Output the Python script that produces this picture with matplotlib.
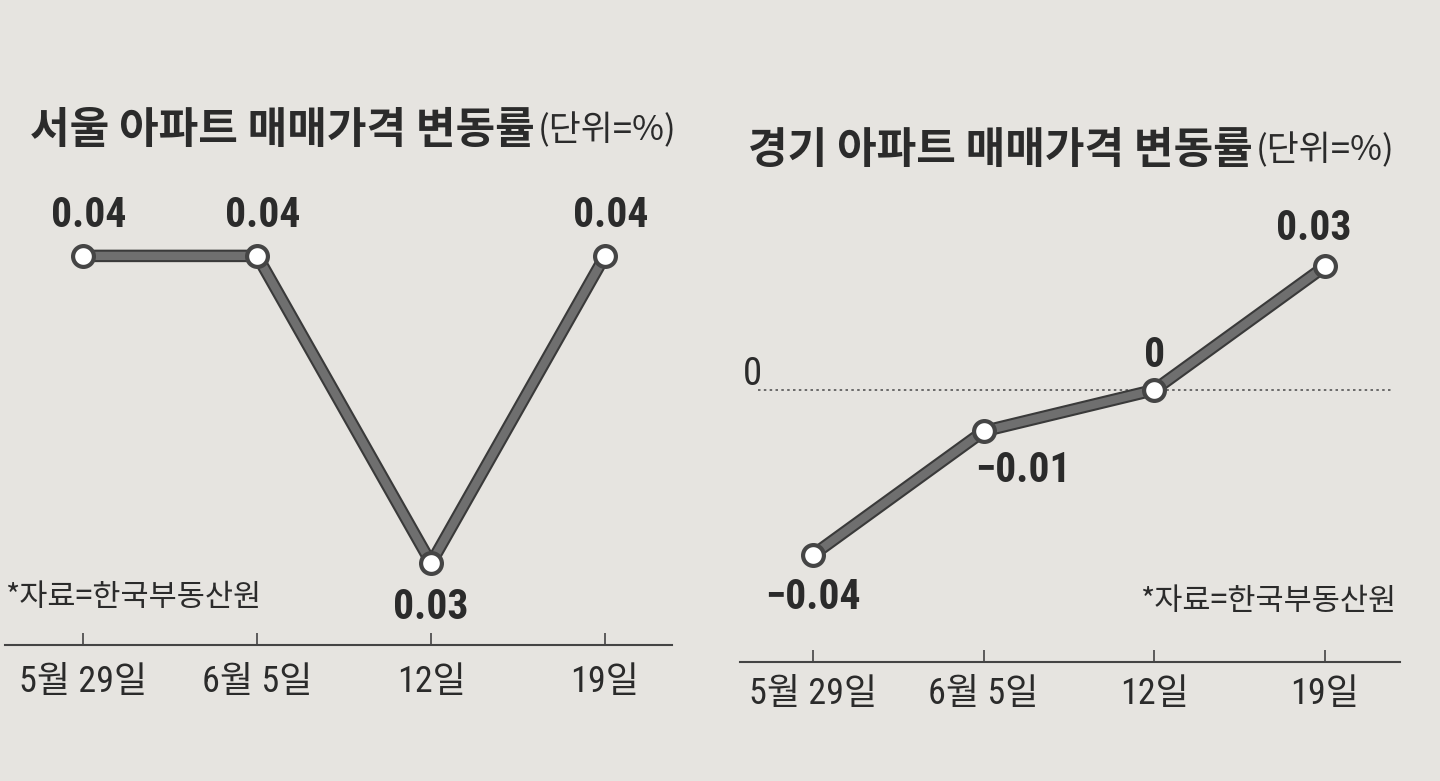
import matplotlib
matplotlib.use("Agg")
import matplotlib.pyplot as plt
import matplotlib.patheffects as pe
import logging
logging.getLogger("matplotlib.font_manager").setLevel(logging.ERROR)

# ---- data ----
dates = ["5월 29일", "6월 5일", "12일", "19일"]
seoul_values = [0.04, 0.04, 0.03, 0.04]
seoul_labels = ["0.04", "0.04", "0.03", "0.04"]
gyeonggi_values = [-0.04, -0.01, 0.0, 0.03]
gyeonggi_labels = ["−0.04", "−0.01", "0", "0.03"]
seoul_title = "서울 아파트 매매가격 변동률"
gyeonggi_title = "경기 아파트 매매가격 변동률"
unit_text = "(단위=%)"
source_text = "*자료=한국부동산원"

BG = "#e6e4e0"
INK = "#2b2b2b"
NUM_FONT = ["Roboto Condensed", "IBM Plex Sans Condensed", "Noto Sans CJK KR", "DejaVu Sans"]
KR_FONT = ["Noto Sans CJK KR", "DejaVu Sans"]
plt.rcParams["font.family"] = KR_FONT

W, H = 1440, 781
fig = plt.figure(figsize=(W / 100, H / 100), dpi=100, facecolor=BG)


def px_axes(x0, y_top, x1, y_bot):
    return fig.add_axes([x0 / W, 1 - y_bot / H, (x1 - x0) / W, (y_bot - y_top) / H])


def draw_panel(ax, values, labels, offsets, xlim, ylim, pad):
    ax.set_facecolor("none")
    ax.set_xlim(*xlim)
    ax.set_ylim(*ylim)
    xs = list(range(len(values)))
    ax.plot(xs, values, color="#6f6f6f", lw=6, solid_capstyle="round", zorder=3,
            path_effects=[pe.Stroke(linewidth=9, foreground="#3a3a3a"), pe.Normal()])
    ax.plot(xs, values, ls="none", marker="o", ms=15, mfc="white", mec="#454545",
            mew=3, zorder=4)
    for x, v, lab, (dx, dy) in zip(xs, values, labels, offsets):
        ax.annotate(lab, (x, v), xytext=(dx, dy), textcoords="offset points",
                    ha="center", va="center", fontsize=30, fontweight="bold",
                    color=INK, family=NUM_FONT, zorder=5)
    for s in ("top", "right", "left"):
        ax.spines[s].set_visible(False)
    ax.spines["bottom"].set_color("#444444")
    ax.spines["bottom"].set_linewidth(1.5)
    ax.set_yticks([])
    ax.set_xticks(xs)
    ax.set_xticklabels(dates, fontsize=26, color=INK, family=NUM_FONT)
    ax.tick_params(axis="x", direction="in", length=9, width=1.2, color="#444444",
                   pad=pad)


# ---- left panel: Seoul ----
axL = px_axes(5, 200, 672, 645)
draw_panel(axL, seoul_values, seoul_labels,
           offsets=[(4, 29), (4, 29), (0, -32), (4, 29)],
           xlim=(-0.45, 3.385), ylim=(0.02733, 0.04182), pad=14)
t1 = fig.text(30 / W, 1 - 130 / H, seoul_title, fontsize=31, fontweight="bold",
              color=INK, va="center", ha="left")
fig.text(5 / W, 1 - 598 / H, source_text, fontsize=22, color=INK,
         va="center", ha="left")

# ---- right panel: Gyeonggi ----
axR = px_axes(740, 200, 1400, 662)
draw_panel(axR, gyeonggi_values, gyeonggi_labels,
           offsets=[(0, -31), (28, -28), (0, 25), (-8, 27)],
           xlim=(-0.428, 3.44), ylim=(-0.066, 0.0461), pad=10)
axR.axhline(0, xmin=0.027, xmax=0.99, color="#555555", lw=1.2, ls=(0, (1.5, 2)),
            zorder=2)
axR.text(0.004, -0.0008, "0", transform=axR.get_yaxis_transform(), fontsize=28,
         color=INK, family=NUM_FONT, ha="left", va="bottom")
t2 = fig.text(748 / W, 1 - 150 / H, gyeonggi_title, fontsize=31, fontweight="bold",
              color=INK, va="center", ha="left")
fig.text(1140 / W, 1 - 602 / H, source_text, fontsize=22, color=INK,
         va="center", ha="left")

# ---- unit annotations after titles ----
for t in (t1, t2):
    fig.add_artist(matplotlib.text.Annotation(
        unit_text, xy=(1, 0.08), xycoords=t, xytext=(2, 0),
        textcoords="offset points", fontsize=25, color=INK,
        ha="left", va="bottom", annotation_clip=False))

fig.savefig("out.png", dpi=100, facecolor=BG)
